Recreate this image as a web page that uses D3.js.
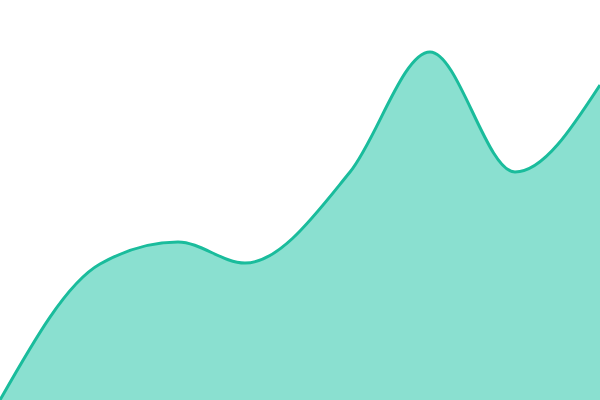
<!DOCTYPE html>
<html><head><meta charset="utf-8">
<script src="https://cdn.jsdelivr.net/npm/d3@7"></script>
<style>html,body{margin:0;padding:0;background:#fff;overflow:hidden}</style>
</head><body>
<svg id="c" width="600" height="400"></svg>
<script>
const days = [0, 5, 8.9, 12.25, 17.5, 21.5, 25.75, 30];
const values = [0, 34, 39.5, 34.25, 57, 87, 57, 78.75];
const data = days.map((d, i) => ({d, v: values[i]}));
const W = 600, H = 400;
const x = d3.scaleLinear().domain([0, 30]).range([0, W]);
const y = d3.scaleLinear().domain([0, 100]).range([H, 0]);
const svg = d3.select("#c");
svg.append("path").datum(data)
  .attr("fill", "#8ae0d0")
  .attr("d", d3.area().x(d => x(d.d)).y0(H).y1(d => y(d.v)).curve(d3.curveMonotoneX));
svg.append("path").datum(data)
  .attr("fill", "none").attr("stroke", "#1abc9c").attr("stroke-width", 3)
  .attr("d", d3.line().x(d => x(d.d)).y(d => y(d.v)).curve(d3.curveMonotoneX));
</script>
</body></html>
